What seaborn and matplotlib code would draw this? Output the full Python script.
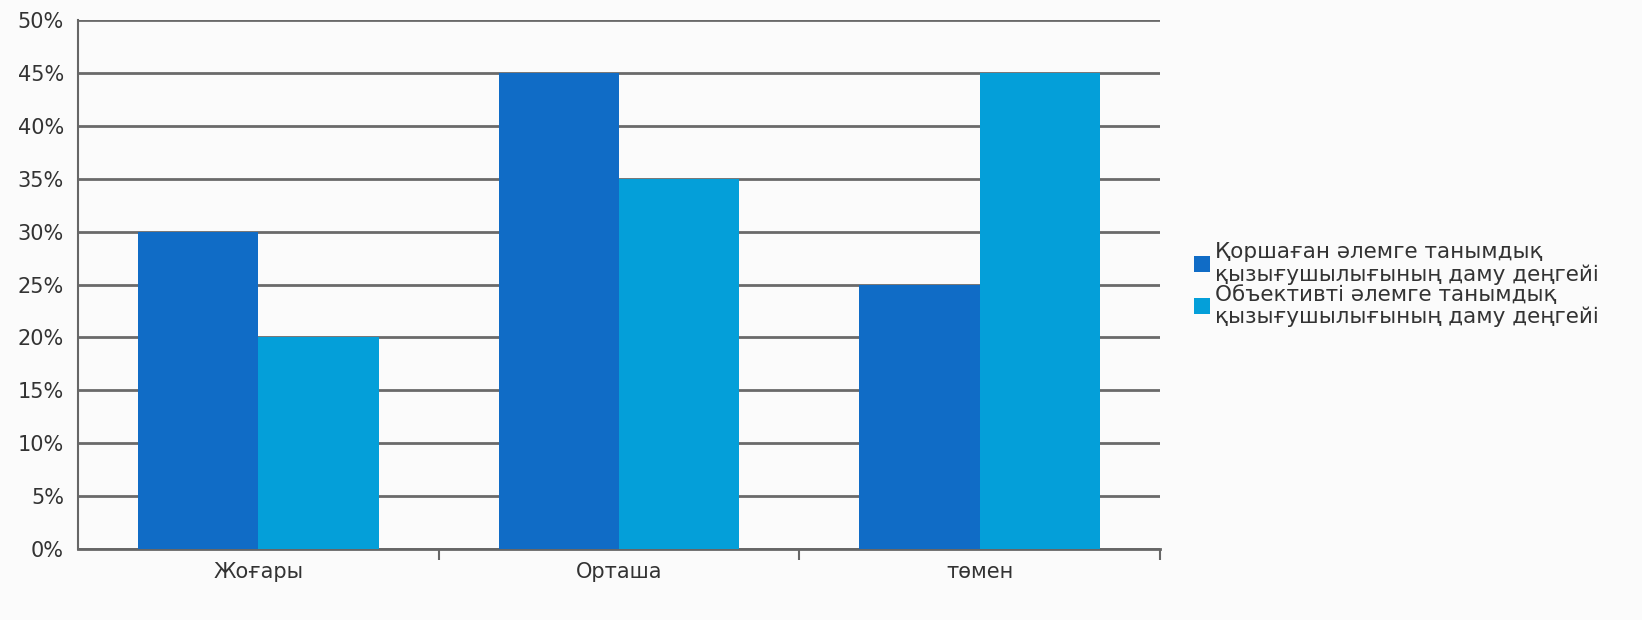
import numpy as np
import pandas as pd
import matplotlib
matplotlib.use('Agg')
import matplotlib.pyplot as plt
import seaborn as sns
from matplotlib.ticker import FuncFormatter

# data
levels = ['Жоғары', 'Орташа', 'төмен']
series_names = ['Қоршаған әлемге танымдық\nқызығушылығының даму деңгейі',
                'Объективті әлемге танымдық\nқызығушылығының даму деңгейі']
vals_1 = [30, 45, 25]
vals_2 = [20, 35, 45]
colors = ['#106cc6', '#049fd9']

df = pd.DataFrame({
    'level': levels * 2,
    'series': [series_names[0]] * 3 + [series_names[1]] * 3,
    'value': vals_1 + vals_2,
})

sns.set_style('white')
plt.rcParams['font.family'] = ['DejaVu Sans']

fig = plt.figure(figsize=(16.42, 6.2), dpi=100, facecolor='#fbfbfb')
ax = fig.add_axes([0.0475, 0.1145, 0.659, 0.853])
ax.set_facecolor('#fbfbfb')

sns.barplot(data=df, x='level', y='value', hue='series', palette=colors,
            width=0.667, saturation=1, linewidth=0, ax=ax, zorder=3)

ax.set_ylim(0, 50)
ax.set_xlim(-0.5, 2.5)
ax.set_yticks(np.arange(0, 51, 5))
ax.yaxis.set_major_formatter(FuncFormatter(lambda v, p: f'{int(v)}%'))
ax.grid(axis='y', color='#6a6a6a', linewidth=2, zorder=0)
ax.set_axisbelow(True)
ax.set_xlabel('')
ax.set_ylabel('')

for s in ['top', 'right']:
    ax.spines[s].set_visible(False)
ax.spines['left'].set_color('#666666')
ax.spines['left'].set_linewidth(1.5)
ax.spines['bottom'].set_color('#666666')
ax.spines['bottom'].set_linewidth(2)

ax.tick_params(axis='y', length=8, width=1.5, color='#666666', labelsize=15, labelcolor='#333333', pad=2)
ax.tick_params(axis='x', length=0, labelsize=15, labelcolor='#333333', pad=9)
# category separators on x axis
ax.set_xticks([0.5, 1.5, 2.5], minor=True)
ax.tick_params(axis='x', which='minor', length=8, width=1.5, color='#666666', bottom=True)

leg = ax.legend(loc='center left', bbox_to_anchor=(1.023, 0.5), frameon=False,
                fontsize=15.5, handlelength=0.75, handleheight=0.75, handletextpad=0.25,
                labelspacing=0.0, borderaxespad=0)
for t in leg.get_texts():
    t.set_color('#333333')
    t.set_linespacing(1.1)

fig.savefig('out.png', dpi=100, facecolor=fig.get_facecolor())
